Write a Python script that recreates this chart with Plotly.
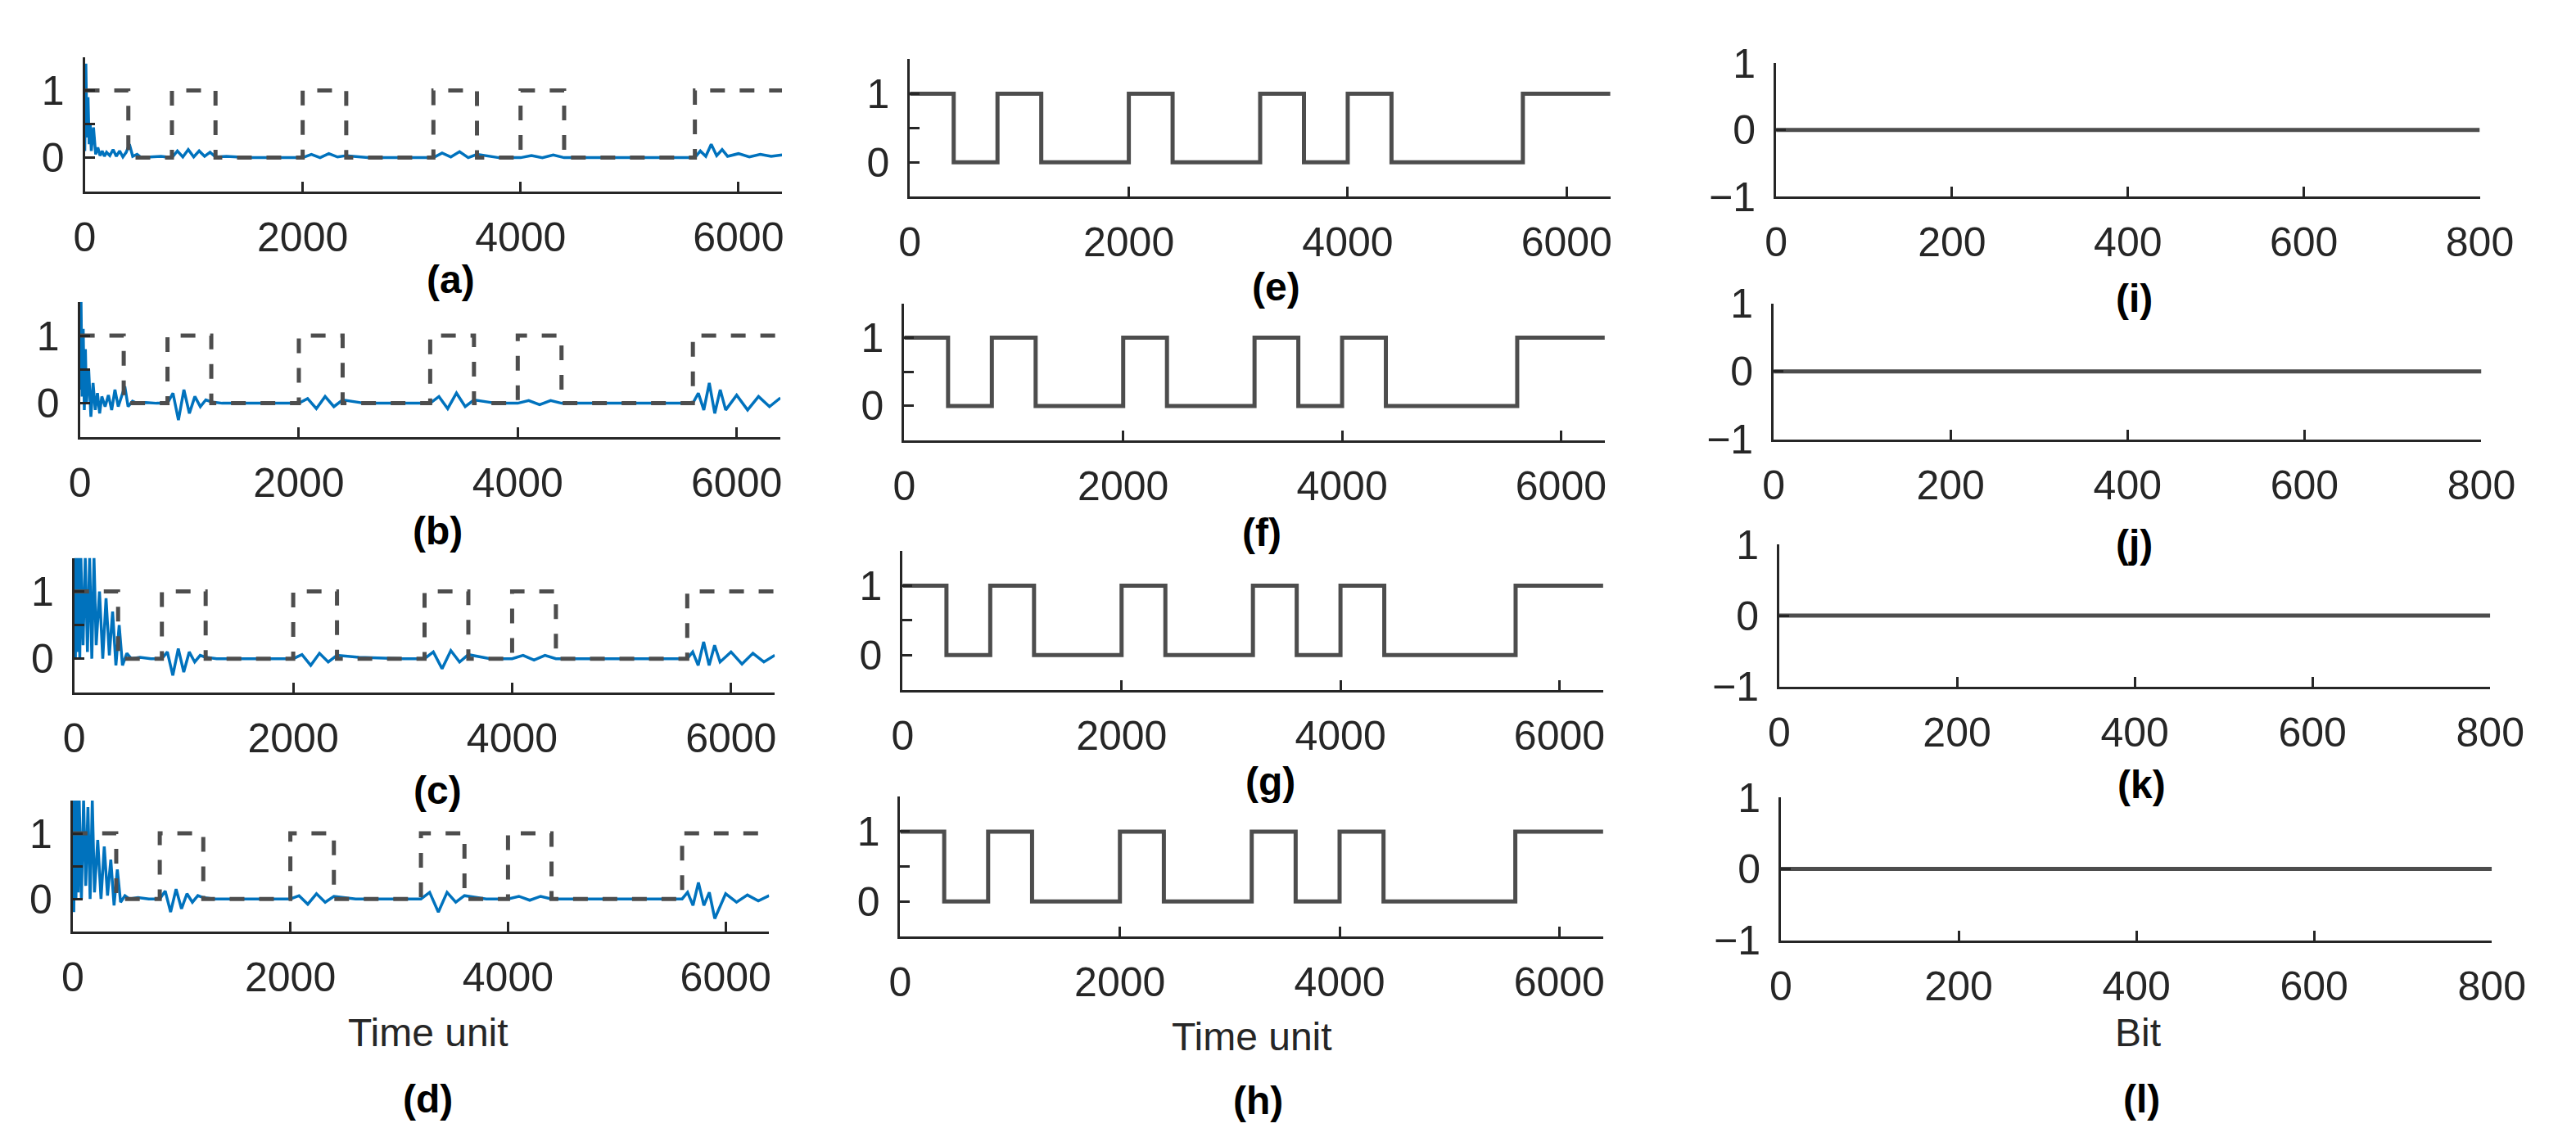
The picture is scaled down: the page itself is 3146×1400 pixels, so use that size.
import plotly.graph_objects as go

W, H = 3146, 1400

# Square-wave reference (dashed in col 1, solid in col 2)
sq_t = [0, 400, 800, 1200, 2000, 2400, 3200, 3600, 4000, 4400, 5600, 6400]
sq_v = [1, 0, 1, 0, 1, 0, 1, 0, 1, 0, 1, 1]

# Blue response signals
sig_t = [0, 10, 20, 30, 40, 50, 60, 80, 100, 120,
         140, 160, 180, 200, 230, 260, 290, 320, 350, 380,
         410, 440, 480, 520, 600, 700, 800, 850, 900, 950,
         1000, 1050, 1100, 1150, 1200, 1300, 1500, 1800, 2000, 2080,
         2160, 2240, 2320, 2400, 2600, 3000, 3200, 3280, 3360, 3440,
         3520, 3600, 3800, 4000, 4100, 4200, 4300, 4400, 4800, 5200,
         5600, 5650, 5700, 5750, 5800, 5850, 5900, 6000, 6100, 6200,
         6300, 6400]
sig_a = [0.1, 1.4, 0.3, 0.9, 0.2, 0.5, 0.1, 0.45, 0.05, 0.15,
         0.03, 0.1, 0.02, 0.08, 0.03, 0.12, 0.02, 0.1, 0.01, 0.08,
         0.2, 0.02, 0.05, 0.0, 0.01, 0.02, 0.0, 0.1, 0.01, 0.12,
         0.01, 0.1, 0.02, 0.08, 0.01, 0.02, 0.0, 0.0, 0.0, 0.05,
         0.0, 0.06, 0.01, 0.03, 0.0, 0.0, 0.0, 0.07, 0.01, 0.09,
         0.0, 0.05, 0.0, 0.0, 0.03, 0.0, 0.04, 0.0, 0.0, 0.0,
         0.0, 0.1, 0.02, 0.2, 0.03, 0.12, 0.02, 0.06, 0.01, 0.05,
         0.02, 0.04]
sig_b = [0.2, 1.5, 0.1, 1.1, -0.1, 0.8, 0.0, 0.5, -0.2, 0.3,
         -0.1, 0.15, -0.15, 0.1, -0.05, 0.12, -0.1, 0.2, -0.05, 0.1,
         0.25, -0.05, 0.03, 0.0, 0.01, 0.0, 0.0, 0.15, -0.25, 0.2,
         -0.15, 0.1, -0.05, 0.05, 0.02, 0.0, 0.0, 0.0, 0.0, 0.07,
         -0.08, 0.1, -0.05, 0.05, 0.0, 0.0, 0.0, 0.1, -0.08, 0.15,
         -0.05, 0.05, 0.0, 0.0, 0.04, -0.02, 0.04, 0.0, 0.0, 0.0,
         0.0, 0.15, -0.1, 0.3, -0.15, 0.2, -0.1, 0.12, -0.1, 0.1,
         -0.05, 0.08]
sig_c = [1.5, 0.0, 1.5, 0.1, 1.5, 0.0, 1.5, 0.2, 1.5, 0.1,
         1.5, 0.0, 1.5, 0.2, 1.0, 0.0, 0.9, 0.05, 0.7, -0.1,
         0.5, -0.1, 0.08, 0.0, 0.02, 0.0, 0.0, 0.1, -0.25, 0.15,
         -0.2, 0.1, -0.05, 0.05, 0.02, 0.0, 0.0, 0.0, 0.0, 0.06,
         -0.1, 0.08, -0.05, 0.05, 0.02, 0.0, 0.0, 0.1, -0.15, 0.12,
         -0.05, 0.06, 0.0, 0.0, 0.05, -0.02, 0.05, 0.0, 0.0, 0.0,
         0.0, 0.1, -0.1, 0.25, -0.1, 0.2, -0.05, 0.1, -0.08, 0.08,
         -0.05, 0.05]
sig_d = [1.5, -0.2, 1.5, 0.0, 1.5, 0.1, 1.5, 0.0, 1.5, 0.2,
         1.4, 0.0, 1.5, 0.1, 0.9, 0.0, 0.8, 0.05, 0.6, -0.1,
         0.45, -0.05, 0.05, 0.0, 0.02, 0.0, 0.0, 0.12, -0.2, 0.15,
         -0.15, 0.08, -0.05, 0.05, 0.02, 0.0, 0.0, 0.0, 0.0, 0.05,
         -0.08, 0.08, -0.05, 0.04, 0.0, 0.0, 0.0, 0.1, -0.2, 0.1,
         -0.05, 0.05, 0.0, 0.0, 0.04, -0.02, 0.04, 0.0, 0.0, 0.0,
         0.0, 0.1, -0.1, 0.25, -0.1, 0.1, -0.3, 0.08, -0.05, 0.06,
         -0.03, 0.05]

bit_x = [0, 800]
bit_v = [0, 0]

labels = ["(a)", "(b)", "(c)", "(d)", "(e)", "(f)", "(g)", "(h)",
          "(i)", "(j)", "(k)", "(l)"]

# pixel boxes (x0, x1, ytop, ybottom)
boxes = [(83, 950, 35, 206), (77, 948, 347, 519), (70, 941, 673, 844), (68, 934, 982, 1149),
         (1109, 1980, 38, 213), (1102, 1973, 349, 523), (1100, 1971, 664, 841), (1097, 1971, 977, 1155),
         (2186, 3061, 43, 213), (2183, 3063, 349, 522), (2190, 3074, 656, 837), (2192, 3076, 978, 1160)]
label_pos = [(538, 318), (522, 639), (522, 969), (510, 1362),
             (1564, 328), (1547, 641), (1557, 957), (1542, 1364),
             (2631, 342), (2631, 655), (2640, 962), (2640, 1362)]

GRAY = "#4d4d4d"
BLUE = "#0072BD"
AX = "#262626"
FONT = "Liberation Sans, Arial, sans-serif"

fig = go.Figure()
sigs = [sig_a, sig_b, sig_c, sig_d]
for i in range(12):
    n = "" if i == 0 else str(i + 1)
    xa, ya = "x" + n, "y" + n
    if i < 4:
        fig.add_trace(go.Scatter(x=sig_t, y=sigs[i], mode="lines", line=dict(color=BLUE, width=3.5),
                                 xaxis=xa, yaxis=ya, showlegend=False))
        fig.add_trace(go.Scatter(x=sq_t, y=sq_v, mode="lines", line=dict(color=GRAY, width=5, dash="18px,18px", shape="hv"),
                                 xaxis=xa, yaxis=ya, showlegend=False))
    elif i < 8:
        fig.add_trace(go.Scatter(x=sq_t, y=sq_v, mode="lines", line=dict(color=GRAY, width=5, shape="hv"),
                                 xaxis=xa, yaxis=ya, showlegend=False))
    else:
        fig.add_trace(go.Scatter(x=bit_x, y=bit_v, mode="lines", line=dict(color=GRAY, width=5),
                                 xaxis=xa, yaxis=ya, showlegend=False))
    x0, x1, yt, yb = boxes[i]
    common = dict(showline=True, linecolor=AX, linewidth=3, ticks="inside", ticklen=12, tickwidth=3,
                  tickcolor=AX, showgrid=False, zeroline=False, mirror=False,
                  tickfont=dict(family=FONT, size=50, color=AX))
    if i < 8:
        xax = dict(domain=[x0 / W, x1 / W], range=[0, 6400], tickvals=[0, 2000, 4000, 6000],
                   ticklabelstandoff=10, **common)
        yax = dict(domain=[1 - yb / H, 1 - yt / H], range=[-0.5, 1.5],
                   tickvals=[-0.5, 0, 0.5, 1, 1.5], ticktext=["", "0", "", "1", ""],
                   ticklabelstandoff=12, **common)
    else:
        xax = dict(domain=[x0 / W, x1 / W], range=[0, 800], tickvals=[0, 200, 400, 600, 800],
                   ticklabelstandoff=10, **common)
        yax = dict(domain=[1 - yb / H, 1 - yt / H], range=[-1, 1],
                   tickvals=[-1, 0, 1], ticklabelstandoff=12, **common)
    xax["anchor"] = ya
    yax["anchor"] = xa
    fig.layout["xaxis" + n] = xax
    fig.layout["yaxis" + n] = yax

annos = []
for lab, (px, py) in zip(labels, label_pos):
    annos.append(dict(text="<b>" + lab + "</b>", x=px / W, y=1 - py / H, xref="paper", yref="paper",
                      xanchor="center", yanchor="middle",
                      showarrow=False, font=dict(family=FONT, size=48, color="black")))
for txt, px, py in [("Time unit", 510, 1278), ("Time unit", 1534, 1283), ("Bit", 2636, 1278)]:
    annos.append(dict(text=txt, x=px / W, y=1 - py / H, xref="paper", yref="paper",
                      xanchor="center", yanchor="middle",
                      showarrow=False, font=dict(family=FONT, size=48, color=AX)))

fig.update_layout(width=W, height=H, margin=dict(l=0, r=0, t=0, b=0),
                  paper_bgcolor="white", plot_bgcolor="white", annotations=annos)
fig.write_html("out.html")
